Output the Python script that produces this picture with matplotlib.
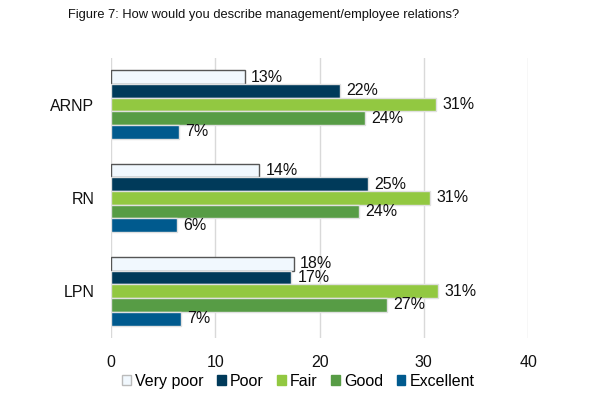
import numpy as np
import matplotlib
matplotlib.use("Agg")
import matplotlib.pyplot as plt
from matplotlib.patches import Patch

plt.rcParams['font.family'] = ['Liberation Sans', 'DejaVu Sans']

# Data
groups = ['ARNP', 'RN', 'LPN']
ratings = ['Very poor', 'Poor', 'Fair', 'Good', 'Excellent']
very_poor = [12.8, 14.2, 17.5]
poor = [22.0, 24.6, 17.3]
fair = [31.2, 30.6, 31.4]
good = [24.4, 23.8, 26.5]
excellent = [6.5, 6.3, 6.7]
labels = [['13%', '14%', '18%'],
          ['22%', '25%', '17%'],
          ['31%', '31%', '31%'],
          ['24%', '24%', '27%'],
          ['7%', '6%', '7%']]
x_ticks = [0, 10, 20, 30, 40]

series = [very_poor, poor, fair, good, excellent]
colors = ['#F1F8FE', '#003A5A', '#92C841', '#579C45', '#005A8E']
edges = ['#555555', '#E0E0E0', '#E0E0E0', '#E0E0E0', '#E0E0E0']

fig = plt.figure(figsize=(5.94, 3.99), dpi=100)
ax = fig.add_axes([0.187, 0.153, 0.702, 0.702])

y = np.arange(len(groups))
h = 0.147
for i, vals in enumerate(series):
    pos = y + (i - 2) * h
    ax.barh(pos, vals, height=h, color=colors[i], edgecolor=edges[i],
            linewidth=1.0, zorder=3)
    for p, v, lab in zip(pos, vals, labels[i]):
        ax.text(v + 0.6, p, lab, va='center', ha='left', fontsize=11.5,
                color='#111111', zorder=4)

ax.set_xlim(0, 40)
ax.set_ylim(len(groups) - 0.5, -0.5)
ax.set_xticks(x_ticks)
ax.set_yticks(y)
ax.set_yticklabels(groups)
ax.tick_params(axis='both', length=0, labelsize=11.5, colors='#111111')
ax.tick_params(axis='x', pad=12)
ax.tick_params(axis='y', pad=12)
ax.grid(axis='x', color='#D9D9D9', linewidth=1.0, zorder=0)
for s in ax.spines.values():
    s.set_visible(False)

fig.text(0.444, 0.962, 'Figure 7: How would you describe management/employee relations?',
         ha='center', va='center', fontsize=9.3, color='#111111')

handles = [Patch(facecolor=c, edgecolor=('#BBBBBB' if k == 0 else c))
           for k, c in enumerate(colors)]
fig.legend(handles, ratings, loc='center', bbox_to_anchor=(0.502, 0.045),
           ncol=5, frameon=False, fontsize=11.5, handlelength=0.55,
           handleheight=0.55, handletextpad=0.25, columnspacing=0.85)

plt.savefig('out.png', dpi=100)
